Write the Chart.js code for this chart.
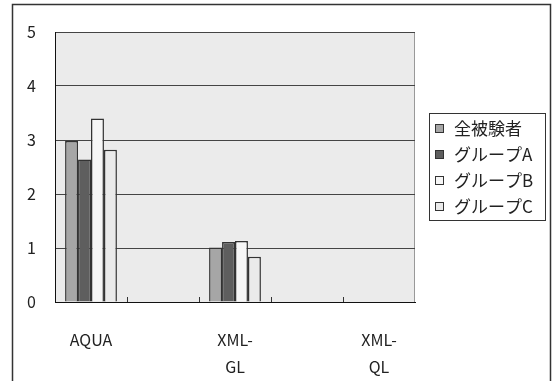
<!DOCTYPE html>
<html>
<head>
<meta charset="utf-8">
<script src="https://cdn.jsdelivr.net/npm/chart.js@4.4.1/dist/chart.umd.min.js"></script>
<style>
  body { margin: 0; background: #fff; }
  canvas { display: block; }
</style>
</head>
<body>
<canvas id="chart" width="553" height="381"></canvas>
<script>
// categories (labels of the 2nd and 4th are skipped in the picture)
const categories = [["AQUA"], [""], ["XML-", "GL"], [""], ["XML-", "QL"]];
const seriesNames = ["全被験者", "グループA", "グループB", "グループC"];
const allSubjects = [2.98, null, 1.01, null, null];
const groupA = [2.64, null, 1.11, null, null];
const groupB = [3.40, null, 1.13, null, null];
const groupC = [2.82, null, 0.84, null, null];
const yTicks = [0, 1, 2, 3, 4, 5];

const colors = ["#a6a6a6", "#5e5e5e", "#f6f6f6", "#eaeaea"];
const FONT = "'Noto Sans CJK JP', 'Liberation Sans', sans-serif";

// plot background, outer frame, inner tick marks and boxed legend
const decor = {
    id: "decor",
    beforeDraw(chart) {
        const { ctx, chartArea: a } = chart;
        ctx.save();
        ctx.fillStyle = "#ebebeb";
        ctx.fillRect(a.left, a.top, a.right - a.left, a.bottom - a.top);
        ctx.strokeStyle = "#999";
        ctx.lineWidth = 1;
        ctx.beginPath();
        ctx.moveTo(a.left, a.top + 0.5);
        ctx.lineTo(a.right - 0.5, a.top + 0.5);
        ctx.lineTo(a.right - 0.5, a.bottom);
        ctx.stroke();
        ctx.restore();
    },
    afterDraw(chart) {
        const { ctx, chartArea: a } = chart;
        const x = chart.scales.x;
        ctx.save();
        // outer frame
        ctx.strokeStyle = "#333";
        ctx.lineWidth = 1.5;
        ctx.strokeRect(12.5, 4.5, 538, 420);

        // small ticks between categories, pointing into the plot
        ctx.lineWidth = 1;
        ctx.strokeStyle = "#333";
        for (let i = 0; i < categories.length - 1; i++) {
            const px = Math.round((x.getPixelForValue(i) + x.getPixelForValue(i + 1)) / 2) + 0.5;
            ctx.beginPath();
            ctx.moveTo(px, a.bottom);
            ctx.lineTo(px, a.bottom - 5);
            ctx.stroke();
        }

        // legend
        ctx.strokeStyle = "#333";
        ctx.strokeRect(429.5, 113.5, 116, 107);
        ctx.font = "17px " + FONT;
        ctx.textBaseline = "middle";
        ctx.fillStyle = "#222";
        chart.data.datasets.forEach((ds, i) => {
            const cy = 128 + i * 26;
            ctx.fillStyle = ds.backgroundColor;
            ctx.fillRect(435, cy - 4, 9, 9);
            ctx.strokeRect(435.5, cy - 3.5, 8, 8);
            ctx.fillStyle = "#222";
            ctx.fillText(ds.label, 454, cy + 1);
        });
        ctx.restore();
    }
};

const seriesData = [allSubjects, groupA, groupB, groupC];

new Chart(document.getElementById("chart"), {
    type: "bar",
    data: {
        labels: categories,
        datasets: seriesNames.map((name, i) => ({
            label: name,
            data: seriesData[i],
            backgroundColor: colors[i],
            borderColor: "#333",
            borderWidth: 1.5,
            categoryPercentage: 0.72,
            barPercentage: 1
        }))
    },
    options: {
        responsive: false,
        animation: false,
        layout: { padding: { left: 12, top: 32, right: 138, bottom: 0 } },
        plugins: {
            legend: { display: false },
            tooltip: { enabled: false }
        },
        scales: {
            x: {
                grid: { display: false },
                border: { color: "#111", width: 1 },
                afterFit: s => { s.height = 79; },
                ticks: {
                    autoSkip: false,
                    maxRotation: 0,
                    padding: 16,
                    color: "#222",
                    font: { family: FONT, size: 16, lineHeight: "27px" }
                }
            },
            y: {
                min: 0,
                max: 5,
                afterFit: s => { s.width = 43; },
                afterBuildTicks: s => { s.ticks = yTicks.map(v => ({ value: v })); },
                grid: { color: "#444", lineWidth: 1, drawTicks: false },
                border: { color: "#111", width: 1 },
                ticks: {
                    padding: 19,
                    color: "#222",
                    font: { family: FONT, size: 16 }
                }
            }
        }
    },
    plugins: [decor]
});
</script>
</body>
</html>
